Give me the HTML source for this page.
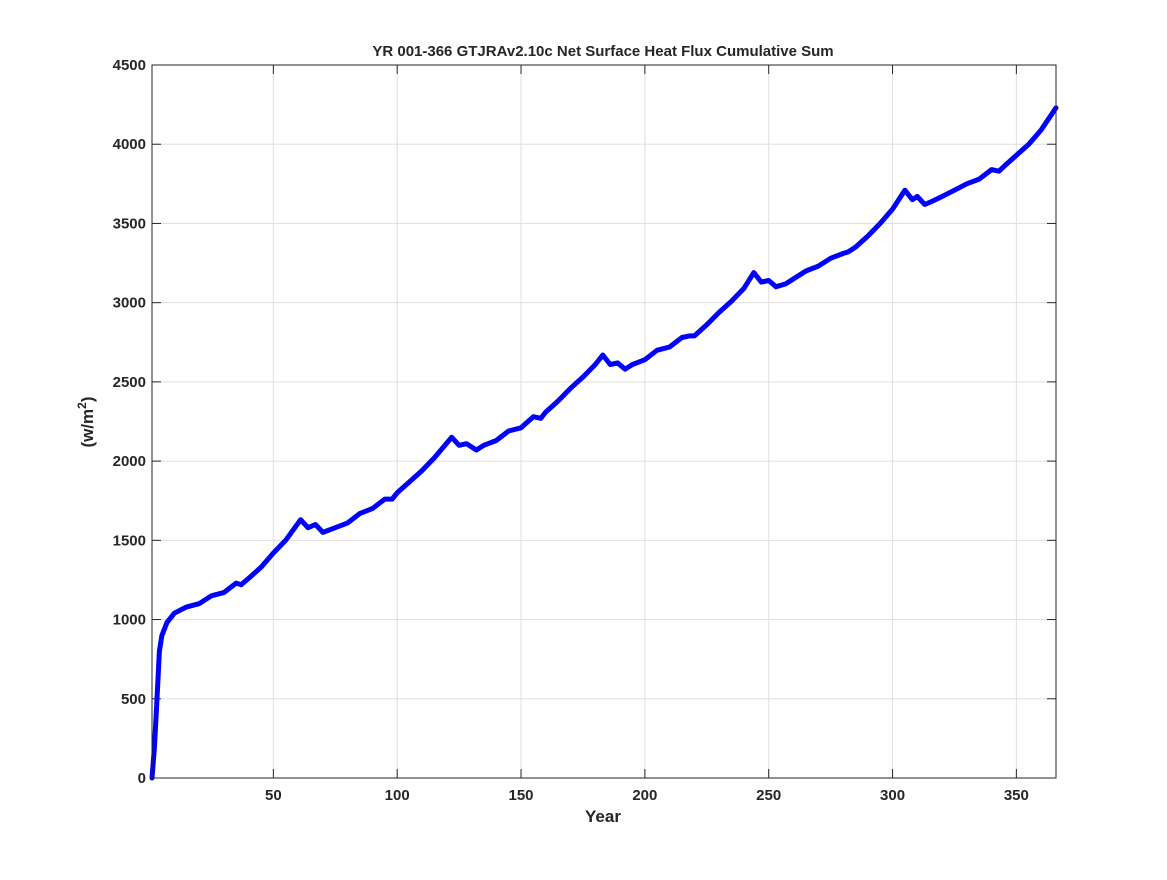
<!DOCTYPE html>
<html><head><meta charset="utf-8"><style>
body{margin:0;background:#fff;}
svg text{font-family:"Liberation Sans",sans-serif;font-weight:bold;fill:#262626;}
</style></head><body>
<svg id="chart" width="1167" height="875" xmlns="http://www.w3.org/2000/svg">
<rect width="1167" height="875" fill="#fff"/>
<rect x="152" y="65" width="904" height="713" fill="#fff"/>
<g id="grid"></g>
<g id="ticks"></g>
<path id="series" fill="none" stroke="#0000ff" stroke-width="5" stroke-linejoin="round" stroke-linecap="round"/>
<rect x="152" y="65" width="904" height="713" fill="none" stroke="#262626" stroke-width="1"/>
<text x="603" y="56" text-anchor="middle" font-size="15">YR 001-366 GTJRAv2.10c Net Surface Heat Flux  Cumulative Sum</text>
<text x="603" y="822" text-anchor="middle" font-size="17">Year</text>
<text transform="translate(93,422) rotate(-90)" text-anchor="middle" font-size="17">(w/m<tspan font-size="12" dy="-7">2</tspan><tspan dy="7">)</tspan></text>
</svg>
<script>
const years=[1,2,3,4,5,7,10,15,20,25,30,35,37,40,45,50,55,61,64,67,70,75,80,85,90,95,98,100,105,110,115,122,125,128,132,135,140,145,150,155,158,160,165,170,175,180,183,186,189,192,195,200,205,210,215,218,220,225,230,235,240,244,247,250,253,257,260,265,270,275,280,282,285,290,295,300,305,308,310,313,316,320,325,330,335,340,343,345,350,355,360,366];
const values=[0,200,500,800,900,980,1040,1080,1100,1150,1170,1230,1220,1260,1330,1420,1500,1630,1580,1600,1550,1580,1610,1670,1700,1760,1760,1800,1870,1940,2020,2150,2100,2110,2070,2100,2130,2190,2210,2280,2270,2310,2380,2460,2530,2610,2670,2610,2620,2580,2610,2640,2700,2720,2780,2790,2790,2860,2940,3010,3090,3190,3130,3140,3100,3120,3150,3200,3230,3280,3310,3320,3350,3420,3500,3590,3710,3650,3670,3620,3640,3670,3710,3750,3780,3840,3830,3860,3930,4000,4090,4230];
const xTicks=[50,100,150,200,250,300,350];
const yTicks=[0,500,1000,1500,2000,2500,3000,3500,4000,4500];
const X0=152,X1=1056,Y0=778,Y1=65,XMIN=1,XMAX=366,YMIN=0,YMAX=4500;
function sx(v){return X0+(v-XMIN)/(XMAX-XMIN)*(X1-X0);}
function sy(v){return Y0-(v-YMIN)/(YMAX-YMIN)*(Y0-Y1);}
const NS="http://www.w3.org/2000/svg";
const grid=document.getElementById('grid'),ticks=document.getElementById('ticks');
function mk(tag,attrs,parent){const e=document.createElementNS(NS,tag);for(const k in attrs)e.setAttribute(k,attrs[k]);parent.appendChild(e);return e;}
xTicks.forEach(t=>{
  const x=sx(t);
  const g=mk('line',{x1:x,x2:x,y1:Y1,y2:Y0,stroke:'#dfdfdf','stroke-width':1},grid);
  
  
  const tk=mk('line',{x1:x,x2:x,y1:Y0,y2:Y0-9,stroke:'#262626'},ticks);
  
  
  const tk2=mk('line',{x1:x,x2:x,y1:Y1,y2:Y1+9,stroke:'#262626'},ticks);
  
  
  const l=mk('text',{x:x,y:800,'text-anchor':'middle','font-size':15},ticks);
  l.textContent=t;
  
  
});
yTicks.forEach(t=>{
  const y=sy(t);
  const g=mk('line',{x1:X0,x2:X1,y1:y,y2:y,stroke:'#dfdfdf','stroke-width':1},grid);
  
  
  const tk=mk('line',{x1:X0,x2:X0+9,y1:y,y2:y,stroke:'#262626'},ticks);
  
  
  const tk2=mk('line',{x1:X1,x2:X1-9,y1:y,y2:y,stroke:'#262626'},ticks);
  
  
  const l=mk('text',{x:X0-6,y:y+5,'text-anchor':'end','font-size':15},ticks);
  l.textContent=t;
  
  
});
let d='';
years.forEach((yr,i)=>{d+=(i?'L':'M')+sx(yr).toFixed(1)+' '+sy(values[i]).toFixed(1);});
document.getElementById('series').setAttribute('d',d);
</script>
</body></html>
